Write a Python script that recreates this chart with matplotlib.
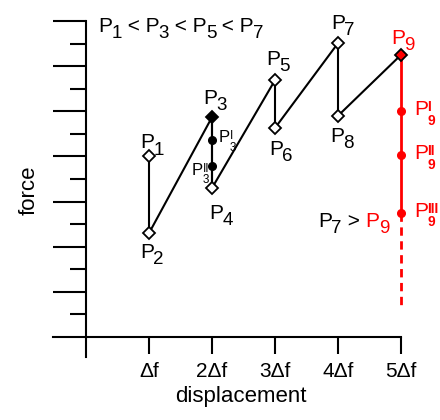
import numpy as np
import matplotlib
matplotlib.use("Agg")
from matplotlib import pyplot as plt

plt.rcParams['font.family'] = ['Liberation Sans', 'DejaVu Sans']

# saw-tooth load path P1..P9 (displacement in units of delta f)
disp = [1, 1, 2, 2, 3, 3, 4, 4, 5]
force = [4.0, 2.3, 4.87, 3.3, 5.69, 4.63, 6.51, 4.9, 6.25]
names = ['1', '2', '3', '4', '5', '6', '7', '8', '9']

# intermediate points under P3 and P9
p3_sub = [4.36, 3.79]
p3_sup = ['I', 'II']
p9_sub = [5.0, 4.03, 2.75]
p9_sup = ['I', 'II', 'III']
p9_end = 0.64

xtick_pos = [1, 2, 3, 4, 5]
xtick_lab = ['\u0394f', '2\u0394f', '3\u0394f', '4\u0394f', '5\u0394f']

RED = '#ff0000'
PX = 0.72  # px -> pt at dpi 100

fig = plt.figure(figsize=(4.4, 4.2), dpi=100)
ax = fig.add_axes([0, 0, 1, 1])
ax.set_xlim(-86 / 63, 354 / 63)
ax.set_ylim(-83 / 45.14, 337 / 45.14)
ax.patch.set_visible(False)


def plabel(xy, dx, dy, sub, sup=None, color='k', size=15, ssize=0.7):
    p = ax.annotate('P', xy, xytext=(dx * PX, dy * PX), textcoords='offset points',
                    ha='left', va='baseline', fontsize=size, color=color)
    if sup is None:
        ax.annotate(sub, xy=(1, 0), xycoords=p, xytext=(-0.5, -4.5), textcoords='offset points',
                    ha='left', va='bottom', fontsize=size * 0.9, color=color)
    else:
        # superscript over subscript, stacked in one text
        w = 'bold' if color == RED else 'normal'
        ax.annotate(sup + '\n' + sub, xy=(1, 1), xycoords=p, xytext=(-0.5, 0),
                    textcoords='offset points', ha='left', va='top', linespacing=0.95,
                    fontsize=size * ssize, color=color, fontweight=w)
    return p


def rich(x, y, parts, size=15):
    prev = None
    for s, kind, c in parts:
        if prev is None:
            prev = ax.text(x, y, s, transform=ax.transAxes, fontsize=size, color=c,
                           ha='left', va='bottom')
            last = 'n'
            continue
        if kind == 'sub':
            dy = -4.5
            fs = size * 0.9
        else:
            dy = 4.5 if last == 'sub' else 0
            fs = size
        prev = ax.annotate(s, xy=(1, 0), xycoords=prev, xytext=(-0.5 if kind == 'sub' else 0, dy),
                           textcoords='offset points',
                           ha='left', va='bottom', fontsize=fs, color=c)
        last = kind


# main black path
ax.plot(disp, force, color='k', lw=1.5, zorder=2)

# P3 drop
ax.plot([disp[2]] * 2, [force[2], force[3]], color='k', lw=1.5, zorder=2)
ax.plot([disp[2]] * len(p3_sub), p3_sub, 'o', color='k', ms=5.5, zorder=3)

# P9 drop
ax.plot([disp[8]] * (len(p9_sub) + 1), [force[8]] + p9_sub, color=RED, lw=2, zorder=2)
ax.plot([disp[8]] * 2, [p9_sub[-1], p9_end], color=RED, lw=2, ls=(0, (3, 2)), zorder=2)
ax.plot([disp[8]] * len(p9_sub), p9_sub, 'o', color=RED, ms=5.5, zorder=3)

# diamonds
for i, (x, y) in enumerate(zip(disp, force)):
    fc = 'white'
    if i == 2:
        fc = 'k'
    if i == 8:
        fc = RED
    ax.plot(x, y, 'D', ms=6, mfc=fc, mec='k', mew=1.3, zorder=4)

# point labels (offsets in px from the marker)
offs = [(-9, 8), (-9, -25), (-9, 13), (-3, -31), (-9, 15),
        (-6, -27), (-7, 14), (-8, -26), (-10, 11)]
for i, (x, y) in enumerate(zip(disp, force)):
    c = RED if i == 8 else 'k'
    plabel((x, y), offs[i][0], offs[i][1], names[i], color=c)

plabel((disp[2], p3_sub[0]), 7, -2, '3', p3_sup[0], size=12)
plabel((disp[2], p3_sub[1]), -20, -9, '3', p3_sup[1], size=12)
for y, s in zip(p9_sub, p9_sup):
    plabel((disp[8], y), 13, -4, '9', s, color=RED, ssize=0.66)

rich(98 / 440, 1 - 36 / 420, [('P', 'n', 'k'), ('1', 'sub', 'k'), (' < P', 'n', 'k'),
                              ('3', 'sub', 'k'), (' < P', 'n', 'k'), ('5', 'sub', 'k'),
                              (' < P', 'n', 'k'), ('7', 'sub', 'k')])
rich(318 / 440, 1 - 231 / 420, [('P', 'n', 'k'), ('7', 'sub', 'k'), (' > ', 'n', 'k'),
                                ('P', 'n', RED), ('9', 'sub', RED)])

# axes as crossing lines
for s in ['top', 'right']:
    ax.spines[s].set_visible(False)
ax.spines['left'].set_position(('data', 0))
ax.spines['bottom'].set_position(('data', 0))
ax.spines['left'].set_bounds(-0.44, 7)
ax.spines['bottom'].set_bounds(-0.52, 5)
ax.spines['left'].set_linewidth(1.5)
ax.spines['bottom'].set_linewidth(1.5)

ax.set_yticks(np.arange(1, 8))
ax.set_yticks(np.arange(0.5, 7, 1), minor=True)
ax.set_yticklabels([])
ax.tick_params(axis='y', which='major', direction='out', length=24, width=1.5)
ax.tick_params(axis='y', which='minor', direction='out', length=11.5, width=1.5)
ax.set_xticks(xtick_pos)
ax.set_xticklabels(xtick_lab)
ax.tick_params(axis='x', direction='out', length=12, width=1.5, labelsize=15, pad=6)

ax.set_xlabel('displacement', fontsize=16)
ax.xaxis.set_label_coords(241 / 440, 1 - 386 / 420)
ax.set_ylabel('force', fontsize=16)
ax.yaxis.set_label_coords(40 / 440, 1 - 190 / 420)

fig.savefig('out.png', dpi=100)
